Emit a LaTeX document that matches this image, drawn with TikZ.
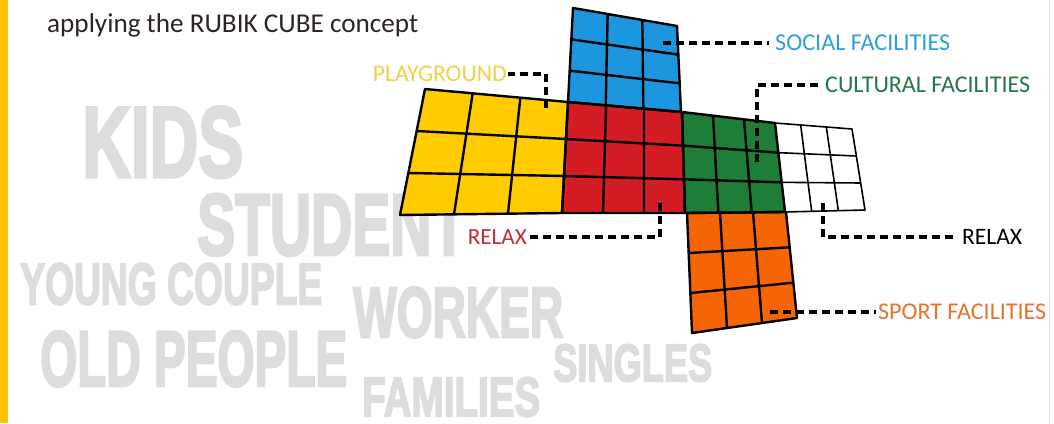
\documentclass[tikz,border=0pt]{standalone}
\usepackage{fontspec}
\usepackage{graphicx}
\setmainfont{Carlito}
\newfontfamily\heavy[FakeBold=3.5]{Liberation Sans Bold}
\usetikzlibrary{calc}
\definecolor{barYellow}{RGB}{255,192,0}
\definecolor{wordGray}{RGB}{221,221,221}
\definecolor{titleGray}{RGB}{45,35,40}
\definecolor{fBlue}{RGB}{28,150,222}
\definecolor{fRed}{RGB}{212,28,36}
\definecolor{fYellow}{RGB}{255,204,0}
\definecolor{fGreen}{RGB}{30,125,55}
\definecolor{fOrange}{RGB}{245,100,5}
\definecolor{lPlay}{RGB}{240,208,70}
\definecolor{lSocial}{RGB}{45,160,220}
\definecolor{lCult}{RGB}{35,120,70}
\definecolor{lRelax}{RGB}{190,45,60}
\definecolor{lSport}{RGB}{230,115,45}
\tikzset{
  word/.style={text=wordGray, inner sep=0pt, anchor=south west, font=\heavy},
  lab/.style={inner sep=0pt},
  lead/.style={line width=3.3pt, dash pattern=on 8pt off 5pt},
}
\newcommand\facefill[5]{\fill[#1] (#2) -- (#3) -- (#4) -- (#5) -- cycle;}
\newcommand\facegrid[5]{%
  \foreach \k in {1,2}{%
    \draw[line width=#1] ($(#2)!\k/3!(#3)$) -- ($(#5)!\k/3!(#4)$);
    \draw[line width=#1] ($(#2)!\k/3!(#5)$) -- ($(#3)!\k/3!(#4)$);
  }
  \draw[line width=#1, line join=round] (#2) -- (#3) -- (#4) -- (#5) -- cycle;}
\begin{document}
\begin{tikzpicture}[x=1pt,y=-1pt]
\useasboundingbox (0,0) rectangle (1054,423);
\fill[white] (0,0) rectangle (1054,423);
\fill[barYellow] (0,0) rectangle (8,423);
\draw[gray!25, line width=0.8pt] (1049,0) -- (1049,423);

% background words
\node[word] (kids) at (82,178) {\resizebox{161pt}{70pt}{KIDS}};
\node[word] (student) at (197,256) {\resizebox{269pt}{61pt}{STUDENT}};
\node[word] (young) at (20,305) {\resizebox{302pt}{41pt}{YOUNG COUPLE}};
\node[word] (old) at (40,387) {\resizebox{307pt}{55pt}{OLD PEOPLE}};
\node[word] (worker) at (353,338) {\resizebox{210pt}{50pt}{WORKER}};
\node[word] (families) at (362,417) {\resizebox{178pt}{39pt}{FAMILIES}};
\node[word] (singles) at (553,382) {\resizebox{159pt}{37pt}{SINGLES}};

% title
\node[lab, anchor=base west, text=titleGray] (title) at (47,32) {\resizebox{371pt}{!}{applying the RUBIK CUBE concept}};

% face corners
\coordinate (b1) at (573,8);   \coordinate (b2) at (677,26);  \coordinate (b3) at (681,112); \coordinate (b4) at (568,102);
\coordinate (r1) at (568,102); \coordinate (r2) at (682,112); \coordinate (r3) at (685,213); \coordinate (r4) at (562,213);
\coordinate (y1) at (425,89);  \coordinate (y2) at (568,102); \coordinate (y3) at (562,213); \coordinate (y4) at (400,215);
\coordinate (g1) at (682,112); \coordinate (g2) at (775,123); \coordinate (g3) at (785,212); \coordinate (g4) at (685,213);
\coordinate (w1) at (775,123); \coordinate (w2) at (852,129); \coordinate (w3) at (865,210); \coordinate (w4) at (785,212);
\coordinate (o1) at (687,213); \coordinate (o2) at (786,212); \coordinate (o3) at (797,318); \coordinate (o4) at (692,333);

\facefill{fBlue}{b1}{b2}{b3}{b4}
\facefill{fRed}{r1}{r2}{r3}{r4}
\facefill{fYellow}{y1}{y2}{y3}{y4}
\facefill{fGreen}{g1}{g2}{g3}{g4}
\facefill{white}{w1}{w2}{w3}{w4}
\facefill{fOrange}{o1}{o2}{o3}{o4}

\facegrid{1.6pt}{w1}{w2}{w3}{w4}
\facegrid{2.4pt}{b1}{b2}{b3}{b4}
\facegrid{2.4pt}{y1}{y2}{y3}{y4}
\facegrid{2.4pt}{r1}{r2}{r3}{r4}
\facegrid{2.4pt}{g1}{g2}{g3}{g4}
\facegrid{2.4pt}{o1}{o2}{o3}{o4}

% labels
\node[lab, anchor=east, text=lPlay] (play) at (507,74) {\resizebox{134pt}{!}{PLAYGROUND}};
\node[lab, anchor=west, text=lSocial] (social) at (775,43) {\resizebox{175pt}{!}{SOCIAL FACILITIES}};
\node[lab, anchor=west, text=lCult] (cult) at (825,85) {\resizebox{205pt}{!}{CULTURAL FACILITIES}};
\node[lab, anchor=east, text=lRelax] (relaxr) at (527,237) {\resizebox{59pt}{!}{RELAX}};
\node[lab, anchor=west, text=black] (relaxk) at (962,237) {\resizebox{60pt}{!}{RELAX}};
\node[lab, anchor=west, text=lSport] (sport) at (878,312) {\resizebox{168pt}{!}{SPORT FACILITIES}};

% connector ends
\coordinate (pgEnd) at (546,108);
\coordinate (soEnd) at (663,43);
\coordinate (cuEnd) at (757,162);
\coordinate (rrEnd) at (660,203);
\coordinate (rkEnd) at (823,203);
\coordinate (spEnd) at (770,312);

\draw[lead] (pgEnd) |- ([xshift=1pt]play.east);
\draw[lead] (soEnd) -- ([xshift=-6pt]social.west);
\draw[lead] (cuEnd) |- ([xshift=-5pt]cult.west);
\draw[lead] (rrEnd) |- ([xshift=1pt]relaxr.east);
\draw[lead] (rkEnd) |- ([xshift=-5pt]relaxk.west);
\draw[lead] (spEnd) -- ([xshift=-2pt]sport.west);
\end{tikzpicture}
\end{document}
